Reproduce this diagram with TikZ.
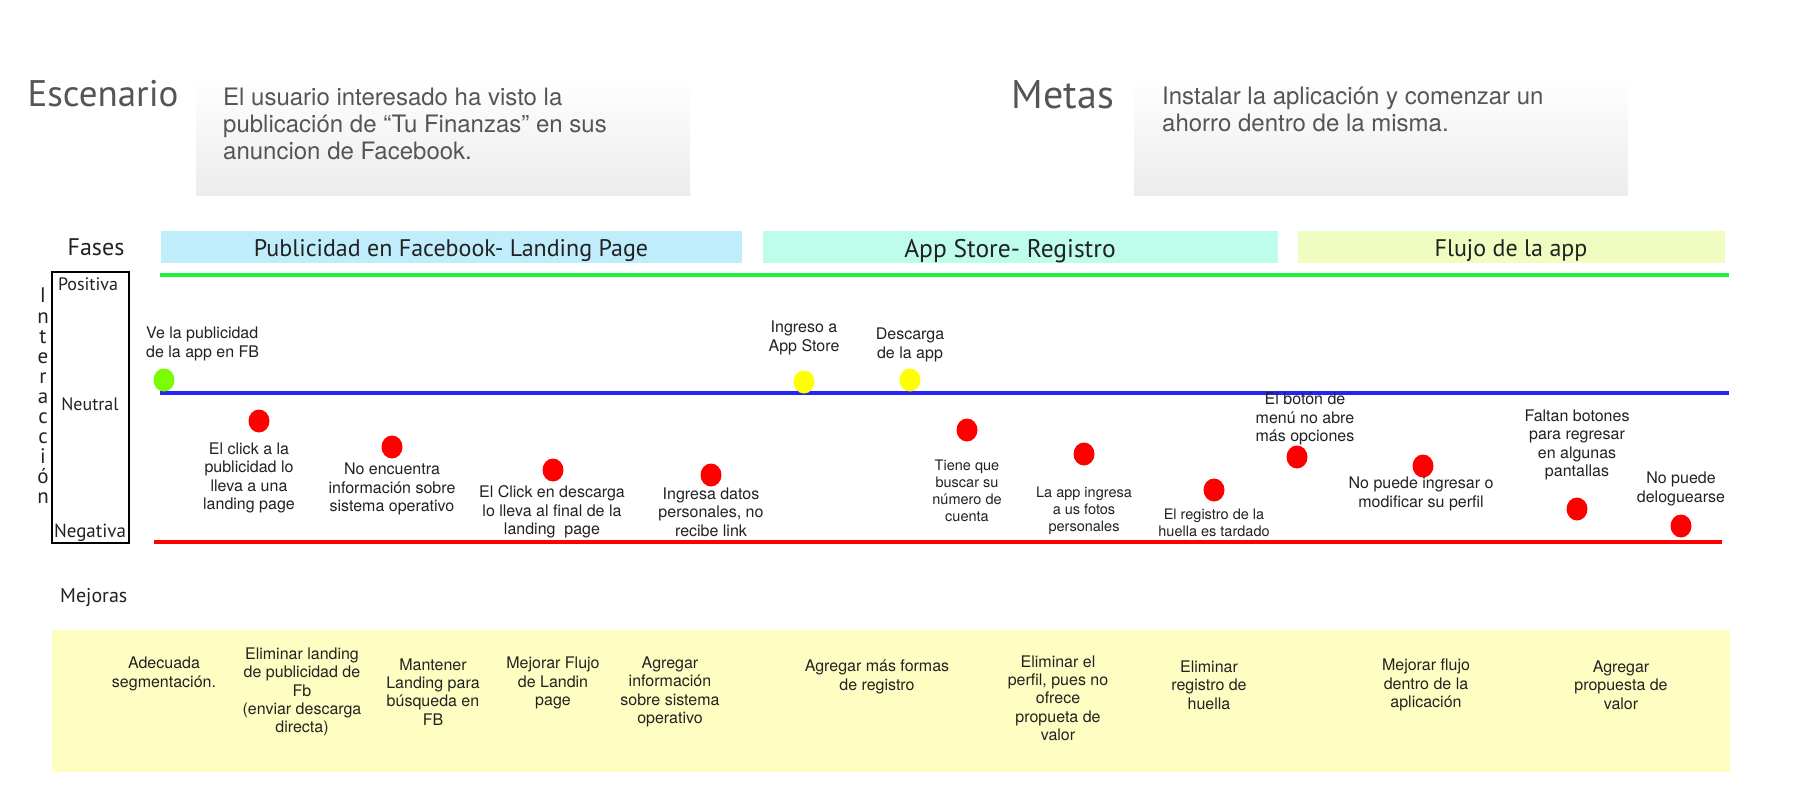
\documentclass[tikz,border=0pt]{standalone}
\usepackage{fontspec}
\setmainfont{TeX Gyre Heros}
\newfontfamily\handfont{PT Sans}
\usetikzlibrary{shapes.geometric}

\definecolor{hdrtxt}{HTML}{555555}
\definecolor{hdrgray}{HTML}{ECECEC}
\definecolor{lbltxt}{HTML}{222222}
\definecolor{phaseA}{HTML}{C0EDFB}
\definecolor{phaseB}{HTML}{BEFCEB}
\definecolor{phaseC}{HTML}{EFFDC1}
\definecolor{mejbg}{HTML}{FFFEC2}
\definecolor{posline}{HTML}{1EF03C}
\definecolor{neuline}{HTML}{2424F5}
\definecolor{negline}{HTML}{FF0000}
\definecolor{dotgreen}{HTML}{7CFC00}
\definecolor{dotyellow}{HTML}{FFFF00}
\definecolor{dotred}{HTML}{FF0000}

\begin{document}
\begin{tikzpicture}[x=1pt,y=-1pt,
  hand/.style={font=\handfont\fontsize{#1}{#1}\selectfont, inner sep=0pt},
  hdrbox/.style={top color=white, bottom color=hdrgray, draw=none},
  hdrtext/.style={font=\fontsize{24}{27}\selectfont, text=hdrtxt, align=left, inner sep=0pt, anchor=north west},
  phasebar/.style={draw=none, inner sep=0pt, minimum height=32pt, text=lbltxt,
    font=\handfont\fontsize{24}{24}\selectfont},
  lbl/.style={font=\fontsize{16}{18.3}\selectfont, align=center, inner sep=0pt, text=lbltxt},
  lblsm/.style={font=\fontsize{14.5}{17}\selectfont, align=center, inner sep=0pt, text=lbltxt},
  mej/.style={font=\fontsize{16}{18.3}\selectfont, align=center, inner sep=0pt, text=lbltxt},
  dot/.style={ellipse, draw=none, inner sep=0pt, minimum width=21pt, minimum height=23pt, fill=#1},
  level/.style={line width=3.2pt, draw=#1}
]
\useasboundingbox (0,0) rectangle (1800,800);
\fill[white] (0,0) rectangle (1800,800);

% ---- Scenario and goals ----
\node[hand=37, text=hdrtxt, anchor=center] (escenario) at (103,94) {Escenario};
\shade[hdrbox] (196,78) rectangle (690,195);
\node[hdrtext] (esctxt) at (223,88) {El usuario interesado ha visto la\\publicación de “Tu Finanzas” en sus\\anuncion de Facebook.};

\node[hand=40, text=hdrtxt, anchor=center] (metas) at (1063,95) {Metas};
\shade[hdrbox] (1134,78) rectangle (1628,195);
\node[hdrtext] (metastxt) at (1162,87) {Instalar la aplicación y comenzar un\\ahorro dentro de la misma.};

% ---- Phases ----
\node[hand=24, text=lbltxt] (fases) at (96,247) {Fases};
\fill[phaseA] (161,231) rectangle (742,263);
\fill[phaseB] (763,231) rectangle (1278,263);
\fill[phaseC] (1298,231) rectangle (1725,263);
\node[phasebar] (ph1) at (451,251) {Publicidad en Facebook- Landing Page};
\node[phasebar, font=\handfont\fontsize{25.5}{25.5}\selectfont] (ph2) at (1010,251) {App Store- Registro};
\node[phasebar] (ph3) at (1511,251) {Flujo de la app};

% ---- Emotion scale ----
\draw[line width=2.5pt] (52,272) rectangle (129,543);
\node[hand=18, text=lbltxt] (pos) at (88,284) {Positiva};
\node[hand=18, text=lbltxt] (neu) at (90,404) {Neutral};
\node[hand=19, text=lbltxt] (neg) at (90,533) {Negativa};
\foreach \ch/\yy in {I/302, n/323, t/343, e/363, r/383, a/403, c/423, c/443, i/463, ó/483, n/503}
  \node[hand=21, text=lbltxt, anchor=base] at (43,\yy) {\ch};

\draw[level=posline] (160,275) -- (1729,275);
\draw[level=neuline] (160,393) -- (1729,393);
\draw[level=negline] (154,542) -- (1722,542);

% ---- Touch points ----
\node[dot=dotgreen]  (d1)  at (164,380) {};
\node[dot=dotred]    (d2)  at (259,421) {};
\node[dot=dotred]    (d3)  at (392,447) {};
\node[dot=dotred]    (d4)  at (553,470) {};
\node[dot=dotred]    (d5)  at (711,475) {};
\node[dot=dotyellow] (d6)  at (804,382) {};
\node[dot=dotyellow] (d7)  at (910,380) {};
\node[dot=dotred]    (d8)  at (967,430) {};
\node[dot=dotred]    (d9)  at (1084,454) {};
\node[dot=dotred]    (d10) at (1214,490) {};
\node[dot=dotred]    (d11) at (1297,457) {};
\node[dot=dotred]    (d12) at (1423,466) {};
\node[dot=dotred]    (d13) at (1577,509) {};
\node[dot=dotred]    (d14) at (1681,526) {};

\node[lbl, align=left, anchor=west] (t1) at (146,344) {Ve la publicidad\\de la app en FB};
\node[lbl] (t2)  at (249,478) {El click a la\\publicidad lo\\lleva a una\\landing page};
\node[lbl] (t3)  at (392,489) {No encuentra\\información sobre\\sistema operativo};
\node[lbl] (t4)  at (552,512) {El Click en descarga\\lo lleva al final de la\\landing\ \ page};
\node[lbl] (t5)  at (711,512) {Ingresa datos\\personales, no\\recibe link};
\node[lbl] (t6)  at (804,338) {Ingreso a\\App Store};
\node[lbl] (t7)  at (910,345) {Descarga\\de la app};
\node[lblsm] (t8)  at (967,491) {Tiene que\\buscar su\\número de\\cuenta};
\node[lblsm] (t9)  at (1084,511) {La app ingresa\\a us fotos\\personales};
\node[lblsm] (t10) at (1214,523) {El registro de la\\huella es tardado};
\node[lbl] (t11) at (1305,419) {El botón de\\menú no abre\\más opciones};
\node[lbl] (t12) at (1421,494) {No puede ingresar o\\modificar su perfil};
\node[lbl] (t13) at (1577,445) {Faltan botones\\para regresar\\en algunas\\pantallas};
\node[lbl] (t14) at (1681,489) {No puede\\deloguearse};

% ---- Improvements ----
\node[hand=20, text=lbltxt, anchor=west] (mejoras) at (60,598) {Mejoras};
\fill[mejbg] (52,630) rectangle (1730,772);
\node[mej] (m1)  at (164,674) {Adecuada\\segmentación.};
\node[mej] (m2)  at (302,692) {Eliminar landing\\de publicidad de\\Fb\\(enviar descarga\\directa)};
\node[mej] (m3)  at (433,692) {Mantener\\Landing para\\búsqueda en\\FB};
\node[mej] (m4)  at (553,683) {Mejorar Flujo\\de Landin\\page};
\node[mej] (m5)  at (670,692) {Agregar\\información\\sobre sistema\\operativo};
\node[mej] (m6)  at (877,677) {Agregar más formas\\de registro};
\node[mej] (m7)  at (1058,698) {Eliminar el\\perfil, pues no\\ofrece\\propueta de\\valor};
\node[mej] (m8)  at (1209,685) {Eliminar\\registro de\\huella};
\node[mej] (m9)  at (1426,685) {Mejorar flujo\\dentro de la\\aplicación};
\node[mej] (m10) at (1621,685) {Agregar\\propuesta de\\valor};
\end{tikzpicture}
\end{document}
